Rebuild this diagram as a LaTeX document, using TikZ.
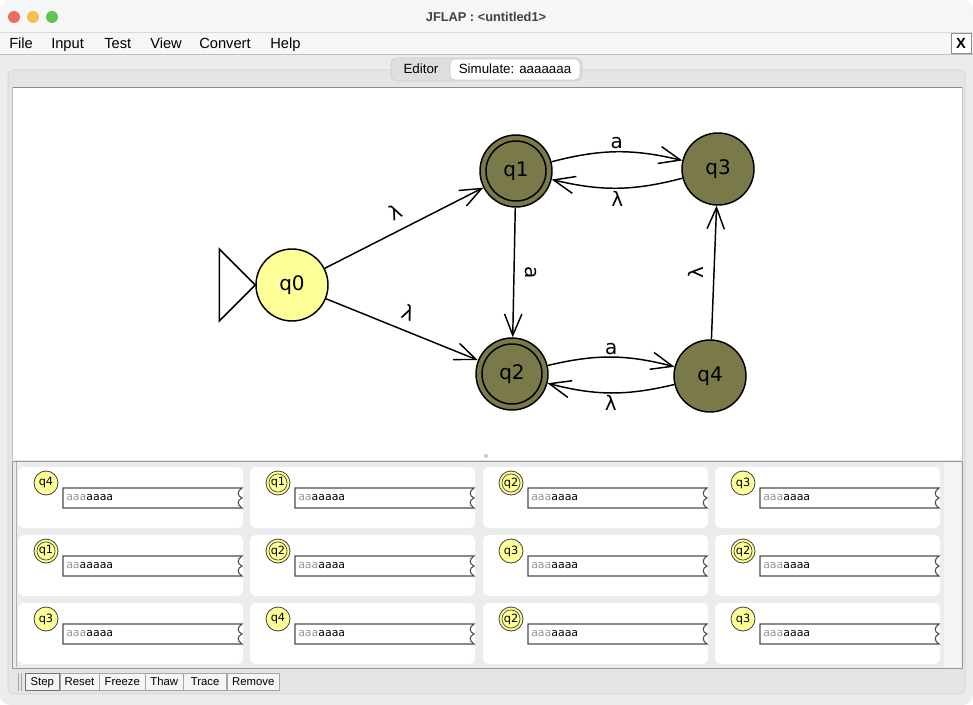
\documentclass[tikz,border=0pt]{standalone}
\usepackage{fontspec}
\setmainfont{Liberation Sans}
\newfontfamily\jflapfont{DejaVu Sans}
\usetikzlibrary{arrows.meta,positioning}

\definecolor{stateolive}{RGB}{122,121,74}
\definecolor{stateyellow}{RGB}{255,255,153}
\definecolor{winbg}{RGB}{236,236,236}
\definecolor{barbg}{RGB}{246,246,246}
\definecolor{panelbg}{RGB}{229,229,229}
\definecolor{framegray}{RGB}{150,150,150}
\definecolor{fieldgray}{RGB}{150,150,150}
\definecolor{closered}{RGB}{237,106,94}
\definecolor{minyellow}{RGB}{245,191,79}
\definecolor{zoomgreen}{RGB}{97,197,84}

\tikzset{
  state/.style={circle, draw, line width=1.1pt, fill=stateolive, minimum size=54pt, inner sep=0pt, font=\jflapfont\fontsize{15}{18}\selectfont},
  accept/.style={path picture={\draw[line width=1.1pt] (path picture bounding box.center) circle (22.5pt);}},
  edge/.style={line width=1.1pt, -{Straight Barb[length=16pt,width=13pt]}},
  lbl/.style={font=\jflapfont\fontsize{15}{18}\selectfont, inner sep=1.5pt},
  farlbl/.style={lbl, inner sep=7.5pt},
  minstate/.style={circle, draw=black!75, line width=0.6pt, fill=stateyellow, minimum size=18pt, inner sep=0pt, font=\jflapfont\fontsize{8.5}{10}\selectfont},
  minaccept/.style={path picture={\draw[black!75, line width=0.5pt] (path picture bounding box.center) circle (6.8pt);}},
  field/.style={draw=black!70, line width=0.8pt},
  fieldtext/.style={font=\jflapfont\fontsize{8.2}{10}\selectfont, inner sep=0pt, anchor=west},
  tbbutton/.style={draw=black!35, fill=white!96!black, minimum height=13pt, inner sep=0pt, text height=6.5pt, text depth=1.8pt, font=\fontsize{8.5}{10}\selectfont},
  menu/.style={font=\fontsize{11}{13}\selectfont, anchor=base west, inner sep=0pt},
  light/.style={circle, minimum size=9pt, inner sep=0pt}
}

% one configuration of the simulation
\newcommand{\simcard}[7]{%
  \fill[white, rounded corners=4pt] (#2,#3) rectangle ++(225,61);
  \node[minstate, #5] (#1) at (#2+28,#3+16) {#4};
  \draw[field] (#2+224,#3+21) -- (#2+45,#3+21) -- (#2+45,#3+41) -- (#2+224,#3+41)
    .. controls (#2+219,#3+38) and (#2+219,#3+33) .. (#2+224,#3+31)
    .. controls (#2+219,#3+29) and (#2+219,#3+24) .. cycle;
  \node[fieldtext] (#1in) at (#2+48,#3+31) {\textcolor{fieldgray}{#6}#7};
}

\begin{document}
\begin{tikzpicture}[x=0.75pt,y=-0.75pt]
  \useasboundingbox (0,0) rectangle (973,705);
  \fill[white] (0,0) rectangle (973,705);

  % window, title bar and menu bar
  \fill[winbg, rounded corners=8pt] (0,0) rectangle (973,705);
  \begin{scope}
    \clip[rounded corners=8pt] (0,0) rectangle (973,705);
    \fill[barbg] (0,0) rectangle (973,54);
  \end{scope}
  \draw[black!15] (0,32.5) -- (973,32.5);
  \draw[black!25] (0,54.5) -- (973,54.5);
  \node[light, fill=closered] (close) at (14,17) {};
  \node[light, fill=minyellow] (mini) at (33,17) {};
  \node[light, fill=zoomgreen] (zoom) at (52,17) {};
  \node[font=\bfseries\fontsize{9.6}{12}\selectfont, text=black!75] (title) at (486,17) {JFLAP : <untitled1>};
  \node[menu] (mfile) at (9,49) {File};
  \node[menu] (minput) at (51,49) {Input};
  \node[menu] (mtest) at (104,49) {Test};
  \node[menu] (mview) at (150,49) {View};
  \node[menu] (mconvert) at (199,49) {Convert};
  \node[menu] (mhelp) at (270,49) {Help};
  \node[draw=black!45, fill=white, minimum width=15pt, minimum height=15pt, inner sep=0pt,
        font=\bfseries\fontsize{11}{13}\selectfont] (closebtn) at (961,43) {X};

  % panel with tabs
  \draw[fill=panelbg, draw=black!18, rounded corners=4pt] (8,70) rectangle (965,694);
  \draw[fill=black!13, draw=black!20, rounded corners=4pt] (391,58) rectangle (582,81);
  \draw[fill=white, draw=black!20, rounded corners=4pt] (450,59) rectangle (580,80);
  \node[font=\fontsize{10}{12}\selectfont] (editor) at (421,69) {Editor};
  \node[font=\fontsize{10}{12}\selectfont] (simulate) at (515,69) {Simulate: aaaaaaa};

  % canvas
  \fill[white] (12,87) rectangle (962,460);
  \draw[black!45] (12,87) -- (962,87);
  \draw[black!25] (12,87) -- (12,460) (962,87) -- (962,460);
  \fill[black!20] (486,456) circle (2);

  % automaton
  \node[state, fill=stateyellow] (q0) at (292,285) {q0};
  \node[state, accept] (q1) at (516,171) {q1};
  \node[state, accept] (q2) at (512,374) {q2};
  \node[state] (q3) at (718,169) {q3};
  \node[state] (q4) at (710,376) {q4};
  \draw[line width=1.1pt] (q0.west) -- ++(-36,-36) -- ++(0,72) -- cycle;

  \draw[edge] (q0) -- node[farlbl, above, rotate=27] {λ} (q1);
  \draw[edge] (q0) -- node[farlbl, above, rotate=-22] {λ} (q2);
  \draw[edge] (q1) -- node[farlbl, above, rotate=-90] {a} (q2);
  \draw[edge] (q4) -- node[farlbl, above, rotate=90] {λ} (q3);
  \draw[edge] (q1) to[bend left=14] node[lbl, above] {a} (q3);
  \draw[edge] (q3) to[bend left=14] node[lbl, below] {λ} (q1);
  \draw[edge] (q2) to[bend left=14] node[lbl, above] {a} (q4);
  \draw[edge] (q4) to[bend left=14] node[lbl, below] {λ} (q2);

  % configurations
  \draw[fill=winbg, draw=black!40] (12,461) rectangle (962,668);
  \draw[black!30] (16,462) -- (16,667);
  \fill[white!96!black] (944,462) rectangle (961,667);
  \simcard{c1}{18}{467}{q4}{}{aaa}{aaaa}
  \simcard{c2}{250}{467}{q1}{minaccept}{aa}{aaaaa}
  \simcard{c3}{483}{467}{q2}{minaccept}{aaa}{aaaa}
  \simcard{c4}{715}{467}{q3}{}{aaa}{aaaa}
  \simcard{c5}{18}{535}{q1}{minaccept}{aa}{aaaaa}
  \simcard{c6}{250}{535}{q2}{minaccept}{aaa}{aaaa}
  \simcard{c7}{483}{535}{q3}{}{aaa}{aaaa}
  \simcard{c8}{715}{535}{q2}{minaccept}{aaa}{aaaa}
  \simcard{c9}{18}{603}{q3}{}{aaa}{aaaa}
  \simcard{c10}{250}{603}{q4}{}{aaa}{aaaa}
  \simcard{c11}{483}{603}{q2}{minaccept}{aaa}{aaaa}
  \simcard{c12}{715}{603}{q3}{}{aaa}{aaaa}

  % tool bar
  \draw[black!35] (18,673) -- (18,691) (21,673) -- (21,691);
  \node[tbbutton, draw=black!55, minimum width=25.5pt, anchor=west] (step) at (25,682) {Step};
  \node[tbbutton, minimum width=29.5pt, right=0pt of step] (reset) {Reset};
  \node[tbbutton, minimum width=34pt, right=0pt of reset] (freeze) {Freeze};
  \node[tbbutton, minimum width=28pt, right=0pt of freeze] (thaw) {Thaw};
  \node[tbbutton, minimum width=32.5pt, right=0pt of thaw] (trace) {Trace};
  \node[tbbutton, minimum width=39pt, right=0pt of trace] (remove) {Remove};
\end{tikzpicture}
\end{document}
